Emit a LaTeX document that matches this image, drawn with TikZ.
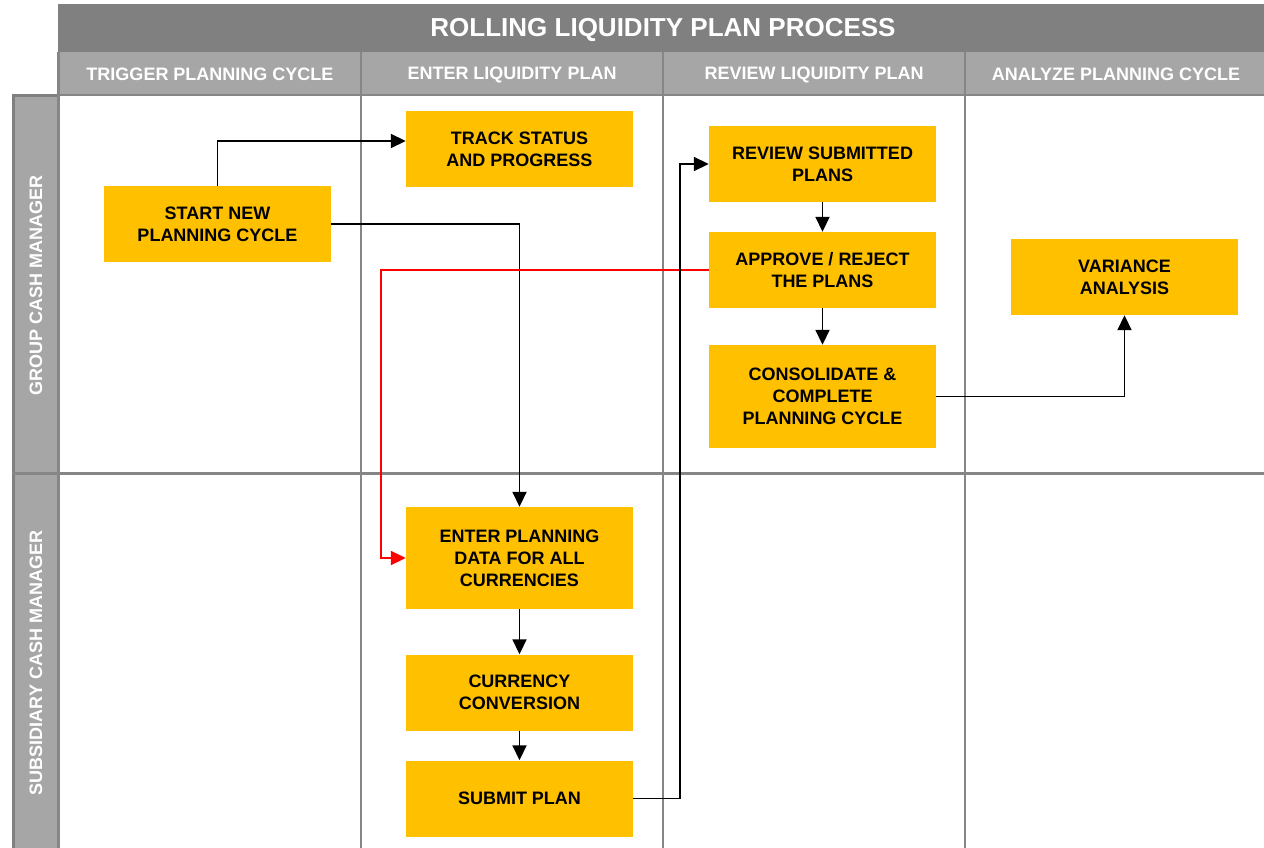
\documentclass[tikz,border=0pt]{standalone}
\usepackage{fontspec}
\setmainfont{Liberation Sans}
\usetikzlibrary{arrows.meta}
\definecolor{boxyellow}{HTML}{FFC000}
\definecolor{titlegray}{HTML}{808080}
\definecolor{headgray}{HTML}{A6A6A6}
\definecolor{linegray}{HTML}{868686}
\tikzset{
  stepbox/.style={fill=boxyellow, draw=none, minimum width=227pt, minimum height=76pt,
    inner sep=0pt, align=center, text=black, font=\bfseries\fontsize{18}{22}\selectfont},
  headtext/.style={text=white, font=\bfseries\fontsize{18}{22}\selectfont, inner sep=0pt},
  flow/.style={draw=black, line width=1.8pt, -{Triangle[length=15pt,width=14pt]}},
  rejectflow/.style={draw=red, line width=1.8pt, -{Triangle[length=15pt,width=14pt]}},
  grid/.style={draw=linegray, line width=2pt}
}
\begin{document}
\begin{tikzpicture}[x=1pt,y=-1pt]
  \useasboundingbox[fill=white] (0,0) rectangle (1264,848);

  % title bar and column headers
  \fill[titlegray] (58,4) rectangle (1264,52);
  \fill[headgray] (58,52) rectangle (1264,95);
  \node[headtext, font=\bfseries\fontsize{26}{30}\selectfont] (title) at (663,30) {ROLLING LIQUIDITY PLAN PROCESS};
  \node[headtext] (col1) at (210,74.5) {TRIGGER PLANNING CYCLE};
  \node[headtext] (col2) at (512,74.5) {ENTER LIQUIDITY PLAN};
  \node[headtext] (col3) at (814,74.5) {REVIEW LIQUIDITY PLAN};
  \node[headtext] (col4) at (1116,74.5) {ANALYZE PLANNING CYCLE};

  % lane headers
  \fill[headgray] (13,95) rectangle (58,848);
  \draw[draw=titlegray, line width=3pt] (13.5,95) -- (13.5,848);
  \draw[draw=titlegray, line width=3pt] (12,95.5) -- (58,95.5);
  \node[headtext, rotate=90] (lane1) at (36,285) {GROUP CASH MANAGER};
  \node[headtext, rotate=90] (lane2) at (36,663) {SUBSIDIARY CASH MANAGER};

  % grid
  \draw[grid] (58,95) -- (1264,95);
  \draw[grid, line width=3pt] (12,473) -- (1264,473);
  \draw[grid, line width=3pt] (58.5,52) -- (58.5,848);
  \draw[grid] (361,52) -- (361,848);
  \draw[grid] (663,52) -- (663,848);
  \draw[grid] (965,52) -- (965,848);

  % process steps
  \node[stepbox] (start) at (217.5,224) {START NEW\\PLANNING CYCLE};
  \node[stepbox] (track) at (519.5,149) {TRACK STATUS\\AND PROGRESS};
  \node[stepbox] (review) at (822.5,164) {REVIEW SUBMITTED\\PLANS};
  \node[stepbox] (approve) at (822.5,270) {APPROVE / REJECT\\THE PLANS};
  \node[stepbox, minimum height=103pt] (consol) at (822.5,396.5) {CONSOLIDATE \&\\COMPLETE\\PLANNING CYCLE};
  \node[stepbox] (variance) at (1124.5,277) {VARIANCE\\ANALYSIS};
  \node[stepbox, minimum height=102pt] (enter) at (519.5,558) {ENTER PLANNING\\DATA FOR ALL\\CURRENCIES};
  \node[stepbox] (currency) at (519.5,692.5) {CURRENCY\\CONVERSION};
  \node[stepbox] (submit) at (519.5,798.5) {SUBMIT PLAN};

  % connectors
  \draw[flow] (start.north) |- ([yshift=8pt]track.west);
  \draw[flow] (start.east) -| (enter.north);
  \draw[rejectflow] (approve.west) -- ++(-328,0) |- (enter.west);
  \draw[flow] (review) -- (approve);
  \draw[flow] (approve) -- (consol);
  \draw[flow] (enter) -- (currency);
  \draw[flow] (currency) -- (submit);
  \draw[flow] (submit.east) -- ++(47,0) |- (review.west);
  \draw[flow] (consol.east) -| (variance.south);
\end{tikzpicture}
\end{document}
